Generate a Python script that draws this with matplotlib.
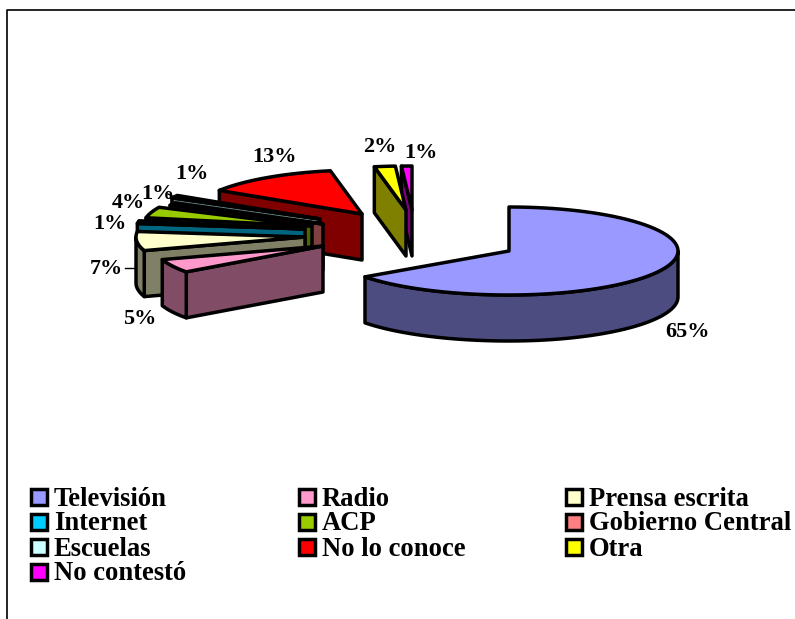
import numpy as np
import matplotlib
matplotlib.use('Agg')
import matplotlib.pyplot as plt
from matplotlib.patches import Polygon, Rectangle

categories = ['Televisión', 'Radio', 'Prensa escrita', 'Internet', 'ACP',
              'Gobierno Central', 'Escuelas', 'No lo conoce', 'Otra', 'No contestó']
values = [65, 5, 7, 1, 4, 1, 1, 13, 2, 1]
top_colors = ['#9999FF', '#FF99CC', '#FFFFCC', '#00CCFF', '#99CC00',
              '#FF8080', '#CCFFFF', '#FF0000', '#FFFF00', '#FF00FF']
side_colors = ['#4C4C80', '#804C66', '#808066', '#006680', '#4C6600',
               '#804040', '#668080', '#800000', '#808000', '#800080']

# where each exploded slice has its point, in pixels
apex = [(509, 251), (323, 246), (305, 237), (305, 229), (312, 226),
        (323, 224), (320, 219), (362, 214), (406, 210), (412, 210)]
label_pos = [(688, 332), (140, 319), (106, 269), (110, 224), (128, 203),
             (158, 194), (192, 174), (274, 157), (380, 147), (421, 153)]

RX = 169
RX_TV_LEFT = 178  # perspective makes the big slice wider on its left side
RY = 44
DEPTH = 46
LW = 2.5

plt.rcParams['font.family'] = ['Liberation Serif', 'DejaVu Serif']
fig = plt.figure(figsize=(7.95, 6.19), dpi=100)
ax = fig.add_axes([0, 0, 1, 1])
ax.set_xlim(0, 795)
ax.set_ylim(619, 0)
ax.axis('off')

# outer frame, only left and top show
ax.plot([7, 7, 795], [619, 10, 10], color='black', lw=1.2)


def arc(i, a0, a1, dy=0):
    cx, cy = apex[i]
    t = np.radians(np.linspace(a0, a1, 80))
    s = np.sin(t)
    rx = np.where((i == 0) & (s < 0), RX_TV_LEFT, RX)
    return np.column_stack([cx + rx * s, cy - RY * np.cos(t) + dy])


def shape(pts, color, z):
    ax.add_patch(Polygon(pts, closed=True, facecolor=color, edgecolor='black',
                         lw=LW, joinstyle='round', zorder=z))


ends = np.cumsum(values) / sum(values) * 360
starts = np.concatenate([[0], ends[:-1]])

# last slice first so nearer ones cover it
for i in range(len(values) - 1, -1, -1):
    cx, cy = apex[i]
    a0, a1 = starts[i], ends[i]
    z = 3 + (len(values) - i)
    # wall along the first edge, faces us on the left half
    if a0 > 180:
        p = arc(i, a0, a0)[0]
        shape([(cx, cy), p, (p[0], p[1] + DEPTH), (cx, cy + DEPTH)], side_colors[i], z)
    # rim, only the front part of the ellipse
    r0, r1 = max(a0, 90), min(a1, 270)
    if r1 > r0:
        shape(np.vstack([arc(i, r0, r1), arc(i, r1, r0, DEPTH)]), side_colors[i], z)
    shape(np.vstack([[(cx, cy)], arc(i, a0, a1)]), top_colors[i], z)

for v, (x, y) in zip(values, label_pos):
    ax.text(x, y, f'{v}%', ha='center', va='center', fontsize=16,
            fontweight='bold', zorder=30)
ax.plot([125, 135], [268, 268], color='black', lw=1, zorder=2)
ax.plot([168, 176], [194, 198], color='black', lw=1, zorder=2)

# legend, filled row by row
col_x = [31, 299, 566]
row_y = [497, 522, 547, 572]
for i, name in enumerate(categories):
    x = col_x[i % 3]
    y = row_y[i // 3]
    ax.add_patch(Rectangle((x, y - 8), 16, 16, facecolor=top_colors[i],
                           edgecolor='black', lw=LW, zorder=5))
    ax.text(x + 23, y + 8.5, name, ha='left', va='baseline', fontsize=19.2,
            fontweight='bold')

fig.savefig('out.png', dpi=100)
